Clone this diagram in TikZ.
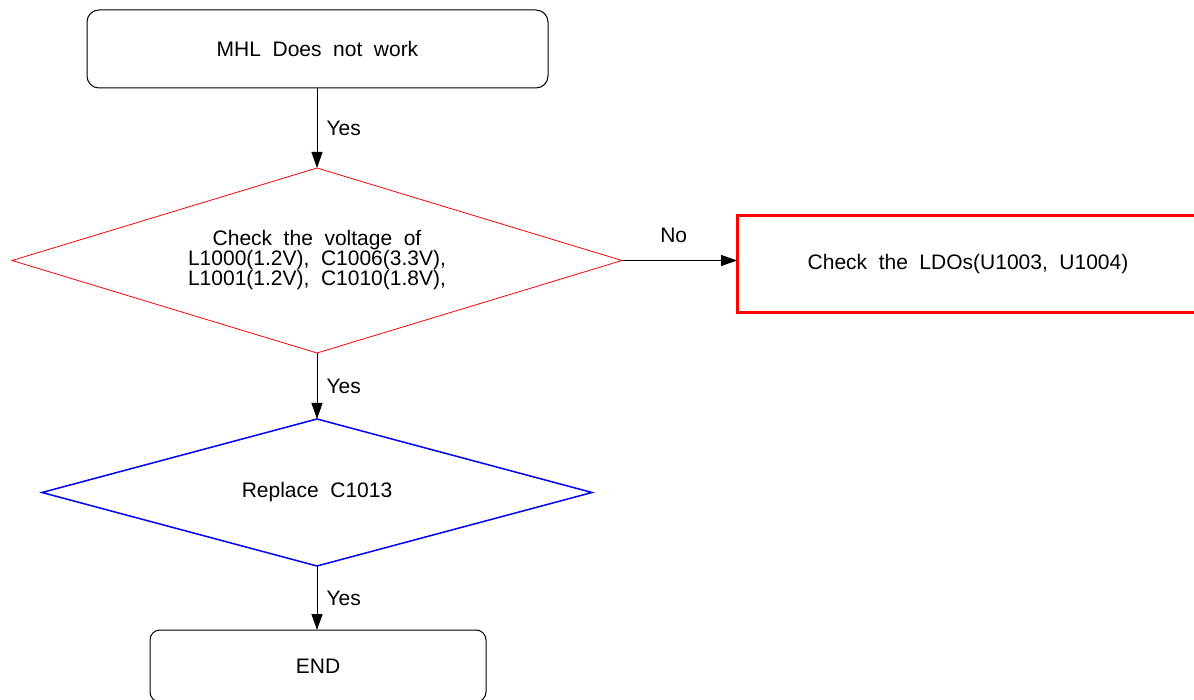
\documentclass[tikz,border=0pt]{standalone}
\usepackage{fontspec}
\setmainfont{Liberation Sans}
\usetikzlibrary{arrows.meta,positioning,shapes.geometric}
\newcommand{\chartfont}{\fontsize{21}{20}\selectfont\spaceskip 0.55em\relax}
\tikzset{
  txt/.style={font=\chartfont},
  terminal/.style={txt, draw, rounded corners=12pt, line width=1pt, outer sep=0pt, align=center},
  decision/.style={txt, draw, diamond, inner sep=0pt, outer sep=0pt, align=center},
  action/.style={txt, draw=red, line width=3pt, outer sep=0pt, align=center},
  flow/.style={-{Triangle[length=16pt, width=11pt]}, line width=1pt},
  lbl/.style={txt, inner sep=2pt}
}
\begin{document}
\begin{tikzpicture}[x=1pt,y=-1pt]
  \useasboundingbox (0,0) rectangle (1194,700);
  \node[terminal, minimum width=461pt, minimum height=78pt] (start) at (317.5,49) {MHL Does not work};
  \node[decision, draw=red, line width=0.8pt, aspect=3.3, minimum width=610pt, minimum height=185pt] (volt) at (317,260.5) {Check the voltage of\\L1000(1.2V), C1006(3.3V),\\L1001(1.2V), C1010(1.8V),};
  \node[action, minimum width=462pt, minimum height=97pt] (ldo) at (968,264.5) {Check the LDOs(U1003, U1004)};
  \node[decision, draw=blue, line width=1.5pt, aspect=3.74, minimum width=550pt, minimum height=147pt] (repl) at (317,492.5) {Replace C1013};
  \node[terminal, rounded corners=10pt, minimum width=336pt, minimum height=72pt] (done) at (318,666) {END};

  \draw[flow] (start.south -| volt.north) -- node[lbl, right=7pt] {Yes} (volt.north);
  \draw[flow] (volt.east) -- node[lbl, above=15pt, pos=0.45] {No} (volt.east -| ldo.west);
  \draw[flow] (volt.south) -- node[lbl, right=7pt] {Yes} (repl.north);
  \draw[flow] (repl.south) -- node[lbl, right=7pt] {Yes} (done.north -| repl.south);
\end{tikzpicture}
\end{document}
